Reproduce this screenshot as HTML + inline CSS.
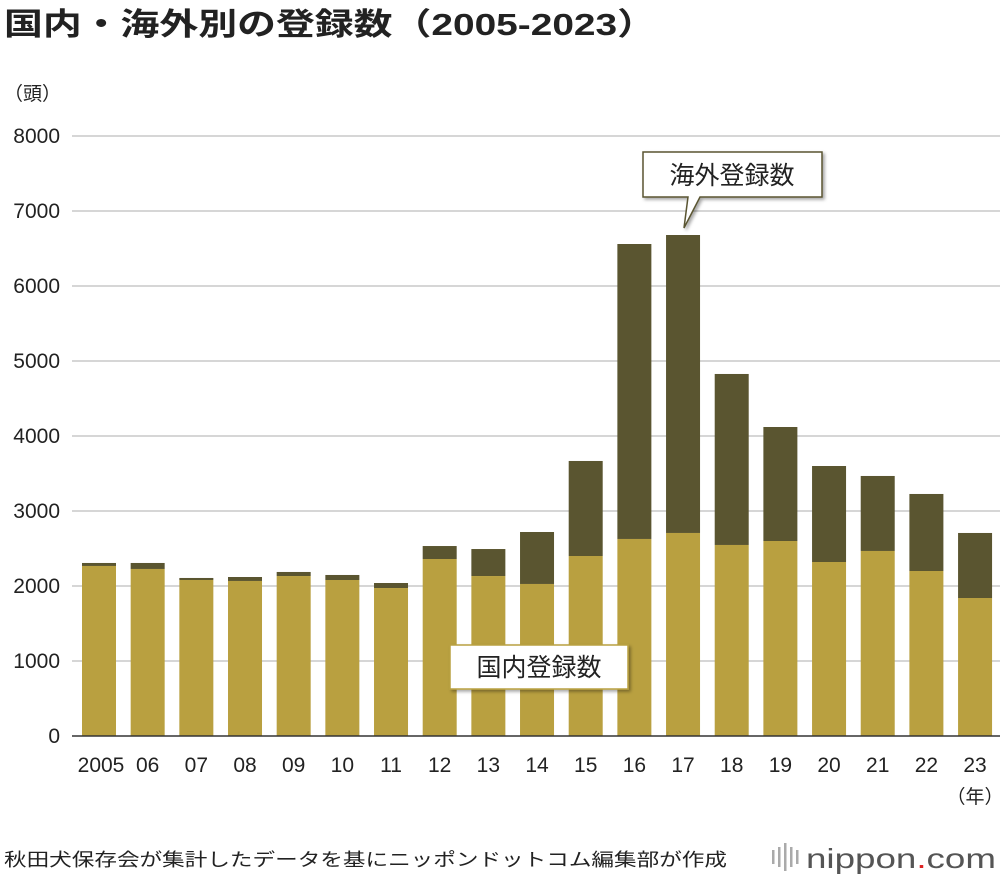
<!DOCTYPE html>
<html><head><meta charset="utf-8"><style>
body{margin:0;background:#fff;}
svg{display:block;font-family:"Liberation Sans","Noto Sans CJK JP",sans-serif;}
</style></head><body>
<svg width="1000" height="880" viewBox="0 0 1000 880">
<defs><filter id="sh" x="-10%" y="-10%" width="130%" height="140%"><feDropShadow dx="2" dy="2" stdDeviation="1.5" flood-color="#000" flood-opacity="0.35"/></filter></defs>
<text x="4" y="35" font-size="31" font-weight="bold" fill="#222" textLength="652" lengthAdjust="spacingAndGlyphs">国内・海外別の登録数（2005-2023）</text>
<text x="4" y="100" font-size="19" fill="#222">（頭）</text>
<g stroke="#c8c8c8" stroke-width="1.5">
<line x1="72" x2="1000" y1="136" y2="136"/><line x1="72" x2="1000" y1="211" y2="211"/>
<line x1="72" x2="1000" y1="286" y2="286"/><line x1="72" x2="1000" y1="361" y2="361"/>
<line x1="72" x2="1000" y1="436" y2="436"/><line x1="72" x2="1000" y1="511" y2="511"/>
<line x1="72" x2="1000" y1="586" y2="586"/><line x1="72" x2="1000" y1="661" y2="661"/>
</g>
<g font-size="21" fill="#222" text-anchor="end">
<text x="60" y="143">8000</text><text x="60" y="218">7000</text><text x="60" y="293">6000</text>
<text x="60" y="368">5000</text><text x="60" y="443">4000</text><text x="60" y="518">3000</text>
<text x="60" y="593">2000</text><text x="60" y="668">1000</text><text x="60" y="743">0</text>
</g>
<g id="bars"></g>
<line x1="72" x2="1000" y1="736" y2="736" stroke="#333" stroke-width="1.5"/>
<g font-size="21" fill="#222" text-anchor="middle" id="xl"></g>
<text x="975" y="803" font-size="19" fill="#222" text-anchor="middle">（年）</text>
<g filter="url(#sh)">
<path d="M643 152 H822 V197 H700 L684 228 L688 197 H643 Z" fill="#fff" stroke="#5a5530" stroke-width="1.5"/>
<rect x="450" y="645" width="178" height="44" fill="#fff" stroke="#b9a040" stroke-width="1.5"/>
</g>
<text x="732" y="184" font-size="25" fill="#222" text-anchor="middle">海外登録数</text>
<text x="539" y="676" font-size="25" fill="#222" text-anchor="middle">国内登録数</text>
<text x="4" y="866" font-size="18" fill="#222" textLength="723" lengthAdjust="spacingAndGlyphs">秋田犬保存会が集計したデータを基にニッポンドットコム編集部が作成</text>
<g fill="#aaa"><rect x="772" y="850" width="2.5" height="14"/><rect x="778" y="847" width="2.5" height="20"/><rect x="784" y="843" width="2.5" height="28"/><rect x="790" y="847" width="2.5" height="20"/><rect x="796" y="850" width="2.5" height="14"/></g>
<text x="806" y="868" font-size="28" fill="#555" textLength="190" lengthAdjust="spacingAndGlyphs">nippon<tspan fill="#d22">.</tspan>com</text>
</svg>
<script>
var d=[[2267,2307],[2227,2307],[2080,2107],[2067,2120],[2133,2187],[2080,2147],[1973,2040],[2360,2533],[2133,2493],[2027,2720],[2400,3667],[2627,6560],[2707,6680],[2547,4827],[2600,4120],[2320,3600],[2467,3467],[2200,3227],[1840,2707]];
var labs=["2005","06","07","08","09","10","11","12","13","14","15","16","17","18","19","20","21","22","23"];
var g=document.getElementById('bars'),xl=document.getElementById('xl'),s="",t="";
d.forEach(function(v,i){var c=99+i*48.67,x=c-17;
var yd=736-v[0]*0.075,yt=736-v[1]*0.075;
s+='<rect x="'+x+'" y="'+yt+'" width="34" height="'+(yd-yt)+'" fill="#5a5530"/>';
s+='<rect x="'+x+'" y="'+yd+'" width="34" height="'+(736-yd)+'" fill="#b9a040"/>';
t+='<text x="'+(i==0?c+2:c)+'" y="772">'+labs[i]+'</text>';});
g.innerHTML=s;xl.innerHTML=t;
</script>
</body></html>
